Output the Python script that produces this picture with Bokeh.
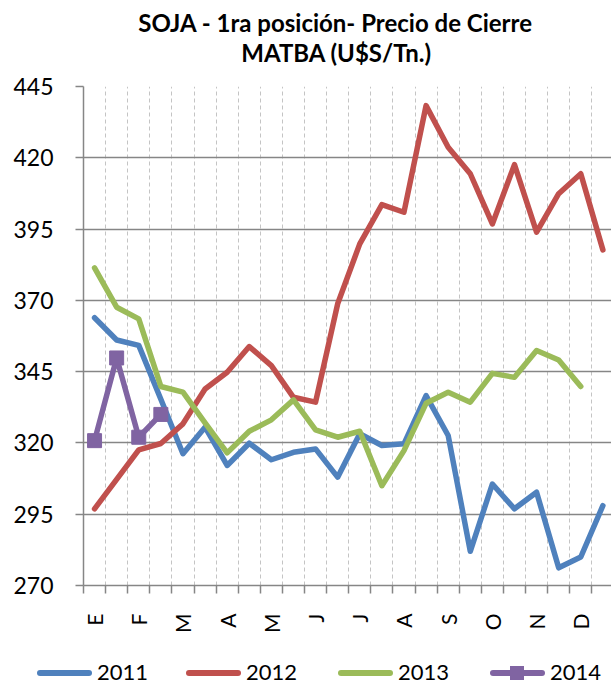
import math
from bokeh.plotting import figure
from bokeh.layouts import column
from bokeh.models import FixedTicker, Range1d, Div
from bokeh.core.properties import value
from bokeh.embed import file_html
from bokeh.resources import INLINE

months = ["E", "F", "M", "A", "M", "J", "J", "A", "S", "O", "N", "D"]
y_ticks = [270, 295, 320, 345, 370, 395, 420, 445]
title_lines = ["SOJA - 1ra posición- Precio de Cierre", "MATBA (U$S/Tn.)"]

v2011 = [363.9, 356.1, 354.2, 335.3, 316.2, 325.5, 312.1, 319.9, 314.1, 316.7, 317.9, 308.0,
         323.2, 319.1, 319.7, 336.6, 322.6, 282.0, 305.6, 296.9, 302.7, 276.2, 280.0, 298.0]
v2012 = [296.9, 307.2, 317.6, 319.8, 326.7, 338.9, 344.8, 353.8, 347.1, 336.0, 334.3, 368.8,
         389.8, 403.6, 400.9, 438.3, 423.7, 414.4, 396.8, 417.6, 393.9, 407.4, 414.4, 387.7]
v2013 = [381.4, 367.6, 363.5, 339.8, 337.8, 327.0, 316.5, 324.1, 328.1, 335.1, 324.6, 322.0,
         324.1, 305.0, 317.3, 333.9, 337.8, 334.3, 344.4, 343.0, 352.4, 349.1, 339.8]
v2014 = [320.8, 349.8, 322.0, 330.0]

series = [("2011", v2011, "#4F81BD"), ("2012", v2012, "#C0504D"),
          ("2013", v2013, "#9BBB59"), ("2014", v2014, "#8064A2")]

FONT = "Lato"
n_cat = 2 * len(months)
W = 611
LEFT = 83

# ---- title strip: x/y in page pixels (frame starts at LEFT) ----
TH = 72
pt = figure(width=W, height=TH, output_backend="svg", toolbar_location=None, title=None,
            x_range=Range1d(LEFT, W), y_range=Range1d(TH, 0),
            x_axis_type=None, y_axis_type=None, min_border=0)
pt.min_border_left = LEFT
pt.min_border_right = 0
pt.min_border_top = 0
pt.min_border_bottom = 0
pt.outline_line_color = None
pt.text(x=[335, 336], y=[22.1, 52.1], text=title_lines, text_align="center",
        text_baseline="alphabetic", text_font=value(FONT), text_font_style="bold",
        text_font_size="24px", text_color="black")

# ---- main chart ----
p = figure(width=W, height=563, output_backend="svg", toolbar_location=None,
           x_range=Range1d(-0.5, 23.39), y_range=Range1d(270, 445))
p.min_border_left = LEFT
p.min_border_right = 0
p.min_border_top = 14
p.min_border_bottom = 50
p.outline_line_color = None
p.background_fill_color = "white"
p.border_fill_color = "white"

xa = p.xaxis[0]
xa.ticker = FixedTicker(ticks=[2 * i for i in range(len(months))],
                        minor_ticks=[i - 0.5 for i in range(n_cat + 1)])
xa.major_label_overrides = {2 * i: m for i, m in enumerate(months)}
xa.major_label_orientation = math.pi / 2
xa.major_tick_out = 0
xa.major_tick_in = 0
xa.minor_tick_out = 8
xa.minor_tick_in = 0
xa.minor_tick_line_color = "#868686"
xa.minor_tick_line_width = 1.5
xa.axis_line_color = "#868686"
xa.axis_line_width = 1.5
xa.major_label_text_font = FONT
xa.major_label_text_font_size = "21px"
xa.major_label_text_color = "black"
xa.major_label_standoff = 20

ya = p.yaxis[0]
ya.ticker = FixedTicker(ticks=y_ticks)
ya.major_tick_out = 8
ya.major_tick_in = 0
ya.minor_tick_out = 0
ya.minor_tick_in = 0
ya.major_tick_line_color = "#868686"
ya.major_tick_line_width = 1.5
ya.axis_line_color = "#868686"
ya.axis_line_width = 1.5
ya.major_label_text_font = FONT
ya.major_label_text_font_size = "23px"
ya.major_label_text_color = "black"
ya.major_label_standoff = 22

p.ygrid.ticker = FixedTicker(ticks=y_ticks)
p.ygrid.grid_line_color = "#868686"
p.ygrid.grid_line_width = 1.5
p.xgrid.ticker = FixedTicker(ticks=[i - 0.5 for i in range(n_cat + 1)])
p.xgrid.grid_line_color = "#C4C4C4"
p.xgrid.grid_line_width = 1
p.xgrid.grid_line_dash = "4 3"

for name, vals, col in series:
    xs = list(range(len(vals)))
    p.line(xs, vals, line_color=col, line_width=5.5, line_join="round", line_cap="round")
    if name == "2014":
        p.scatter(xs, vals, marker="square", size=14, fill_color=col, line_color=col)

# ---- legend strip (HTML, below the chart) ----
LH = 49
glyph_x = [37, 186, 338, 490]
parts = []
for (name, vals, col), gx in zip(series, glyph_x):
    parts.append(
        f'<span style="position:absolute;left:{gx}px;top:35px;width:55px;height:6px;'
        f'background:{col};border-radius:3px;"></span>')
    if name == "2014":
        parts.append(
            f'<span style="position:absolute;left:{gx + 20}px;top:31px;width:14px;height:14px;'
            f'background:{col};"></span>')
    parts.append(
        f'<span style="position:absolute;left:{gx + 60}px;top:26px;line-height:22px;'
        f'font-family:Lato;font-size:22px;color:#000;white-space:nowrap;">{name}</span>')
legend_html = (f'<div style="position:relative;width:{W}px;height:{LH}px;overflow:hidden;">'
               + "".join(parts) + "</div>")
pl = Div(text=legend_html, width=W, height=LH, margin=0)

layout = column(pt, p, pl, spacing=0)
open("out.html", "w").write(file_html(layout, INLINE))
